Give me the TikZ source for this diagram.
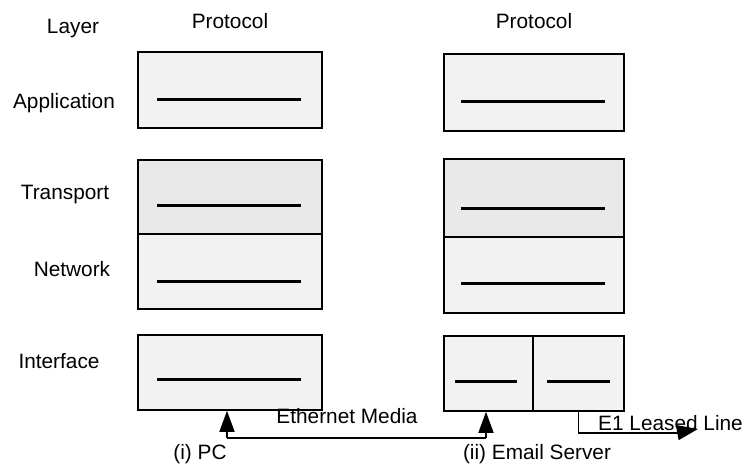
\documentclass[tikz,border=0pt]{standalone}
\usepackage{fontspec}
\setmainfont{Liberation Sans}
\usetikzlibrary{arrows.meta}
\begin{document}
\begin{tikzpicture}[x=1pt,y=-1pt,
  lbl/.style={anchor=base,inner sep=0pt,font=\fontsize{20.8}{24}\selectfont},
  layerbox/.style={draw=black,line width=1.8pt,fill=gray!10,inner sep=0pt,anchor=north west},
  denser/.style={fill=gray!17},
  peerline/.style={line width=3pt},
  link/.style={line width=1.6pt},
  tip/.style={-{Triangle[length=21pt,width=15pt]}}]
\useasboundingbox (0,0) rectangle (744,466);

% column headings
\node[lbl] (hlayer) at (73,33) {Layer};
\node[lbl] (hproto1) at (230,28) {Protocol};
\node[lbl] (hproto2) at (534,28) {Protocol};

% layer names
\node[lbl] (lapp) at (64,108) {Application};
\node[lbl] (ltrans) at (65,199) {Transport};
\node[lbl] (lnet) at (72,276) {Network};
\node[lbl] (lif) at (59,368) {Interface};

% PC stack
\node[layerbox,minimum width=184pt,minimum height=76pt] (pcapp) at (137,51) {};
\node[layerbox,denser,minimum width=184pt,minimum height=74pt] (pctrans) at (137,159) {};
\node[layerbox,minimum width=184pt,minimum height=75pt] (pcnet) at (137,233) {};
\node[layerbox,minimum width=184pt,minimum height=75pt] (pcif) at (137,334) {};
\draw[peerline] (157,99) -- (301,99);
\draw[peerline] (157,205) -- (301,205);
\draw[peerline] (157,281) -- (301,281);
\draw[peerline] (157,379) -- (301,379);

% email server stack
\node[layerbox,minimum width=180pt,minimum height=77pt] (svapp) at (443,53) {};
\node[layerbox,denser,minimum width=180pt,minimum height=78pt] (svtrans) at (443,158) {};
\node[layerbox,minimum width=180pt,minimum height=76pt] (svnet) at (443,236) {};
\node[layerbox,minimum width=89pt,minimum height=75pt] (svifL) at (443,335) {};
\node[layerbox,minimum width=91pt,minimum height=75pt] (svifR) at (532,335) {};
\draw[peerline] (461,101) -- (605,101);
\draw[peerline] (461,208) -- (605,208);
\draw[peerline] (461,283) -- (605,283);
\draw[peerline] (455,381) -- (517,381);
\draw[peerline] (547,381) -- (610,381);

% Ethernet media between PC and server
\coordinate (ethA) at (227,438);
\coordinate (ethB) at (486,438);
\draw[link] (ethA) -- (ethB);
\draw[link,tip] (ethA) -- (ethA |- pcif.south);
\draw[link,tip] (ethB) -- (ethB |- svifL.south);
\node[lbl] (ethlbl) at (347,423) {Ethernet Media};

% E1 leased line out of the server
\coordinate (e1bend) at (svifR.south |- 0,433);
\coordinate (e1end) at (698,429);
\draw[link] (svifR.south) -- (e1bend) -- (680,433);
\draw[link,tip] (675,433) -- (e1end);
\node[lbl,anchor=base east] (e1lbl) at (743,430) {E1 Leased Line};

% host names
\node[lbl] (npc) at (200,459) {(i) PC};
\node[lbl] (nsv) at (537,459) {(ii) Email Server};
\end{tikzpicture}
\end{document}
